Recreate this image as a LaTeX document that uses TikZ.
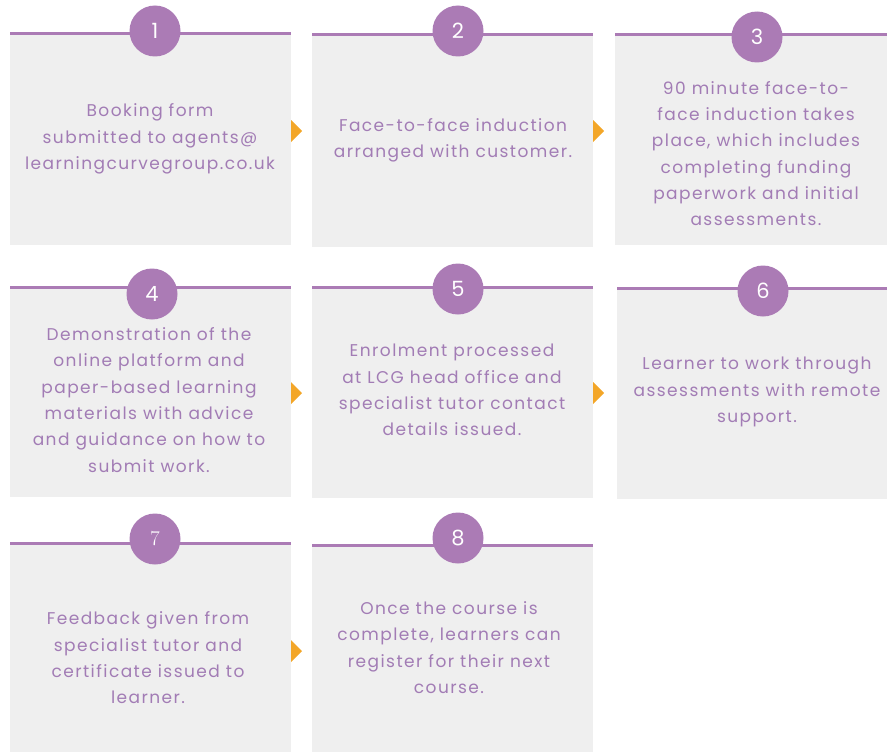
\documentclass[tikz,border=0pt]{standalone}
\usepackage{fontspec}
\setmainfont{Poppins}[LetterSpace=8.5]
\newfontfamily\numserif{Latin Modern Roman}
\definecolor{lcgpurple}{HTML}{AB7BB5}
\definecolor{lcgtext}{HTML}{A27CB5}
\definecolor{lcggray}{HTML}{EFEFEF}
\definecolor{lcgorange}{HTML}{F3A628}
\tikzset{
  panel/.style={fill=lcggray, inner sep=0pt, outer sep=0pt, anchor=north west},
  topline/.style={draw=lcgpurple, line width=3pt},
  numdisc/.style={circle, fill=lcgpurple, text=white, minimum size=51pt, inner sep=0pt, font=\fontsize{21}{21}\selectfont},
  txt/.style={text=lcgtext, align=center, inner sep=0pt, font=\fontsize{17}{26.3}\selectfont},
  tip/.style={fill=lcgorange}
}
\begin{document}
\begin{tikzpicture}[x=1pt,y=-1pt]
\useasboundingbox (0,0) rectangle (888,752);
% row 1
\node[panel, minimum width=281, minimum height=211] (b1) at (10,34) {};
\node[panel, minimum width=281, minimum height=212] (b2) at (312,35) {};
\node[panel, minimum width=272, minimum height=210] (b3) at (615,35) {};
% row 2
\node[panel, minimum width=281, minimum height=210] (b4) at (10,287) {};
\node[panel, minimum width=281, minimum height=211] (b5) at (312,287) {};
\node[panel, minimum width=270, minimum height=211] (b6) at (617,288) {};
% row 3
\node[panel, minimum width=281, minimum height=209] (b7) at (10,543) {};
\node[panel, minimum width=281, minimum height=207] (b8) at (312,545) {};
\foreach \b in {b1,b2,b3,b4,b5,b6,b7,b8}{
  \draw[topline] (\b.north west) -- (\b.north east);
}
% numbers
\node[numdisc] (n1) at (155,31) {1};
\node[numdisc] (n2) at (458,31) {2};
\node[numdisc] (n3) at (757,37) {3};
\node[numdisc] (n4) at (152,294) {4};
\node[numdisc] (n5) at (458,289) {5};
\node[numdisc] (n6) at (763,291) {6};
\node[numdisc] (n7) at (155,539) {\numserif 7};
\node[numdisc] (n8) at (458,538) {8};
% texts
\node[txt] (t1) at (150,139) {Booking form\\submitted to agents@\\learningcurvegroup.co.uk};
\node[txt] (t2) at (453,140) {Face-to-face induction\\arranged with customer.};
\node[txt] (t3) at (756,153.5) {90 minute face-to-\\face induction takes\\place, which includes\\completing funding\\paperwork and initial\\assessments.};
\node[txt] (t4) at (149,400) {Demonstration of the\\online platform and\\paper-based learning\\materials with advice\\and guidance on how to\\submit work.};
\node[txt] (t5) at (452,390) {Enrolment processed\\at LCG head office and\\specialist tutor contact\\details issued.};
\node[txt] (t6) at (757,392) {Learner to work through\\assessments with remote\\support.};
\node[txt] (t7) at (148,658) {Feedback given from\\specialist tutor and\\certificate issued to\\learner.};
\node[txt] (t8) at (449,647.5) {Once the course is\\complete, learners can\\register for their next\\course.};
% arrow tips between steps
\foreach \a/\ty in {b1/131,b2/131,b4/393,b5/393,b7/651}{
  \fill[tip] (\a.east |- 0,\ty) ++(0,-11) -- ++(11,11) -- ++(-11,11) -- cycle;
}
\end{tikzpicture}
\end{document}
